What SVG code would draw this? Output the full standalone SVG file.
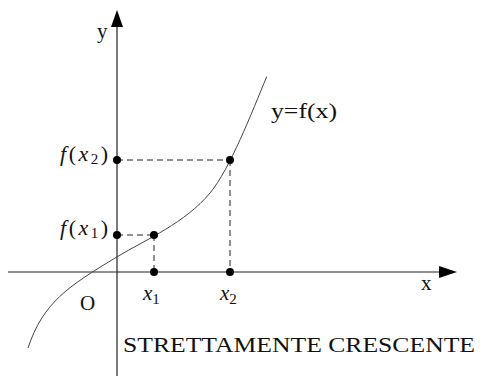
<svg xmlns="http://www.w3.org/2000/svg" width="480" height="376" viewBox="0 0 480 376">
<style>
.axis{stroke:#222;stroke-width:1.2;fill:none}
.curve{stroke:#444;stroke-width:1;fill:none}
.dash{stroke:#222;stroke-width:1;stroke-dasharray:6,4;fill:none}
.dot{fill:#000}
text{font-family:"Liberation Serif","DejaVu Serif",serif;font-size:21px;fill:#111}
.it{font-style:italic}
.sub{font-size:15px}
.fl{font-size:22px;letter-spacing:2.5px}
</style>
<rect width="480" height="376" fill="#fff"/>
<g id="axes">
<line class="axis" x1="117" y1="376" x2="117" y2="26"/>
<polygon points="117,10 111,27 123,27" fill="#000"/>
<line class="axis" x1="8" y1="272" x2="440" y2="272"/>
<polygon points="457,272 439,266 439,278" fill="#000"/>
</g>
<g id="connectors">
<line class="dash" x1="117" y1="160" x2="230" y2="160"/>
<line class="dash" x1="230" y1="160" x2="230" y2="272"/>
<line class="dash" x1="117" y1="235" x2="154" y2="235"/>
<line class="dash" x1="154" y1="235" x2="154" y2="272"/>
</g>
<g id="curve">
<path class="curve" d="M28,348 C43,303 67.3,286.7 117.3,256.7 C147.3,238.7 185,223 210,193 C230,169 251.7,112.7 266.7,76.7"/>
</g>
<g id="points">
<circle class="dot" cx="117" cy="160" r="4"/>
<circle class="dot" cx="230" cy="160" r="4"/>
<circle class="dot" cx="117" cy="235" r="4"/>
<circle class="dot" cx="154" cy="235" r="4"/>
<circle class="dot" cx="154" cy="272" r="4"/>
<circle class="dot" cx="230" cy="272" r="4"/>
</g>
<g id="labels">
<text x="97" y="38">y</text>
<text x="421" y="290">x</text>
<text x="80" y="310">O</text>
<text x="271" y="118" textLength="66" lengthAdjust="spacingAndGlyphs">y=f(x)</text>
<text class="fl" x="60" y="161"><tspan class="it">f</tspan>(<tspan class="it">x</tspan><tspan class="sub" dy="3">2</tspan><tspan dy="-3">)</tspan></text>
<text class="fl" x="60" y="235"><tspan class="it">f</tspan>(<tspan class="it">x</tspan><tspan class="sub" dy="3">1</tspan><tspan dy="-3">)</tspan></text>
<text x="143" y="300"><tspan class="it">x</tspan><tspan class="sub" dy="4">1</tspan></text>
<text x="220" y="300"><tspan class="it">x</tspan><tspan class="sub" dy="4">2</tspan></text>
<text x="123" y="352" font-size="23" textLength="352" lengthAdjust="spacingAndGlyphs">STRETTAMENTE CRESCENTE</text>
</g>
</svg>
